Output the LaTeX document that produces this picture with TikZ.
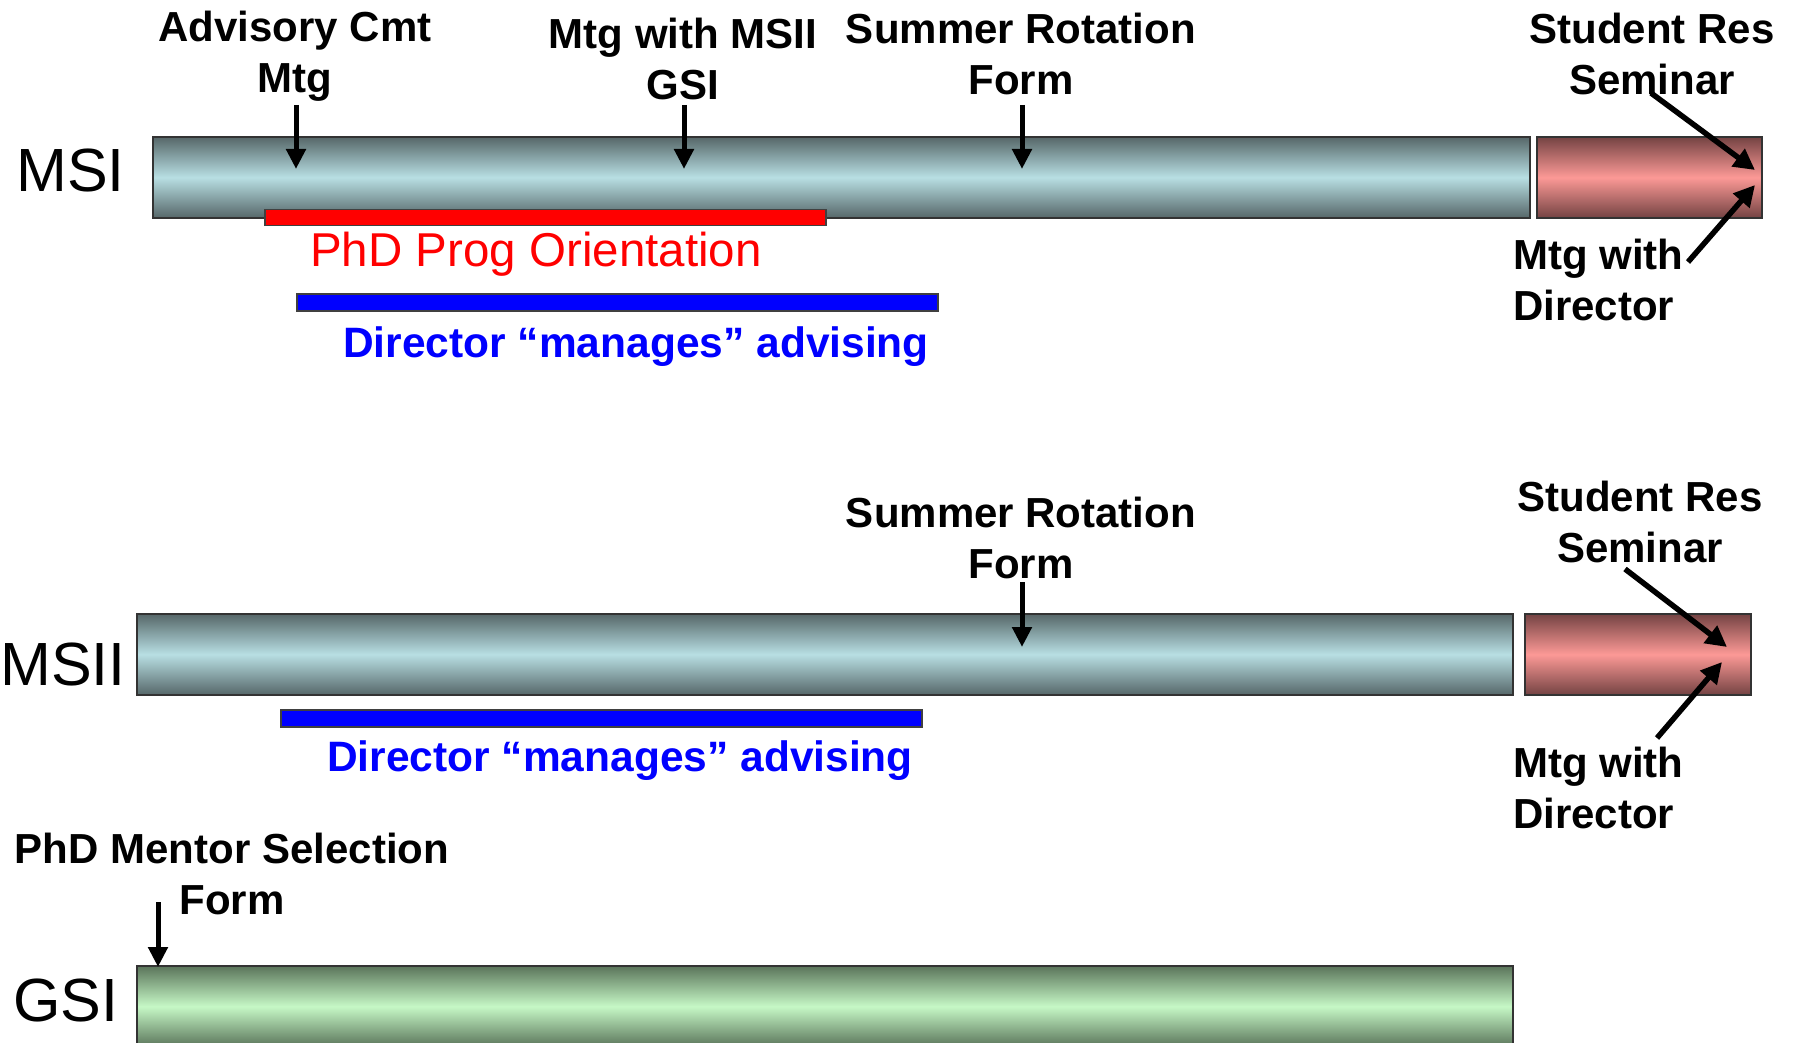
\documentclass[tikz,border=0pt]{standalone}
\usepackage{fontspec}
\setmainfont{Liberation Sans}
\usetikzlibrary{arrows.meta}
\definecolor{tealedge}{HTML}{566769}
\definecolor{tealmid}{HTML}{B8DFE3}
\definecolor{pinkedge}{HTML}{744343}
\definecolor{pinkmid}{HTML}{FC9996}
\definecolor{greenedge}{HTML}{5A745A}
\definecolor{greenmid}{HTML}{C6F8C6}
\begin{document}
\begin{tikzpicture}[x=1pt,y=-1pt,
  lbl/.style={font=\fontsize{42}{51}\selectfont\bfseries, align=center, inner sep=0pt, anchor=base},
  lbll/.style={font=\fontsize{42}{51}\selectfont\bfseries, align=left, inner sep=0pt, anchor=base west},
  bluetxt/.style={font=\fontsize{42.5}{51}\selectfont\bfseries, text=blue, inner sep=0pt, anchor=base west},
  rowname/.style={font=\fontsize{61}{70}\selectfont, inner sep=0pt, anchor=base west},
  arr/.style={line width=5pt, -{Triangle[width=19pt,length=20pt]}},
  darr/.style={line width=5.5pt, -{Triangle[width=21pt,length=21pt]}},
  barbase/.style={rectangle, draw=black!80, line width=1.8pt, anchor=north west, inner sep=0pt, minimum height=81pt},
  tealbar/.style={barbase, top color=tealedge, bottom color=tealedge, middle color=tealmid},
  pinkbar/.style={barbase, top color=pinkedge, bottom color=pinkedge, middle color=pinkmid},
  greenbar/.style={barbase, top color=greenedge, bottom color=greenedge, middle color=greenmid},
  strip/.style={rectangle, draw=black!75, line width=1.5pt, anchor=north west, inner sep=0pt, minimum height=16pt},
]
\useasboundingbox (0,0) rectangle (1799,1043);

% ---------- MSI row ----------
\node[rowname] (msiname) at (16,192) {MSI};
\node[tealbar, minimum width=1377pt] (msi) at (152,136) {};
\node[pinkbar, minimum width=225pt] (msipink) at (1536,136) {};
\node[strip, fill=red, minimum width=561pt] (orient) at (264,209) {};
\node[strip, fill=blue, minimum width=641pt, minimum height=17pt] (dir1) at (296,293) {};
\node[font=\fontsize{47.5}{56}\selectfont, text=red, inner sep=0pt, anchor=base west] (orienttxt) at (310,266) {PhD Prog Orientation};
\node[bluetxt] (dir1txt) at (343,357) {Director “manages” advising};

% multi-line labels: anchor at the baseline of the last line
\node[lbl] (advlbl) at (295,93) {Advisory Cmt\\Mtg};
\node[lbl] (mtglbl) at (683,100) {Mtg with MSII\\GSI};
\node[lbl] (sumlbl) at (1021,95) {Summer Rotation\\Form};
\node[lbl] (stulbl) at (1652,95) {Student Res\\Seminar};
\node[lbll] (dirlbl) at (1513,320) {Mtg with\\Director};

\coordinate (a1s) at (296,105); \coordinate (a1e) at (296,169);
\coordinate (a2s) at (684,105); \coordinate (a2e) at (684,169);
\coordinate (a3s) at (1022,105); \coordinate (a3e) at (1022,169);
\coordinate (a4s) at (1651,93); \coordinate (a4e) at (1755,170);
\coordinate (a5s) at (1688,262); \coordinate (a5e) at (1755,185);
\draw[arr] (a1s) -- (a1e);
\draw[arr] (a2s) -- (a2e);
\draw[arr] (a3s) -- (a3e);
\draw[darr] (a4s) -- (a4e);
\draw[darr] (a5s) -- (a5e);

% ---------- MSII row ----------
\node[rowname] (msiiname) at (0,685) {MSII};
\node[tealbar, minimum width=1376pt] (msii) at (136,613) {};
\node[pinkbar, minimum width=226pt] (msiipink) at (1524,613) {};
\node[strip, fill=blue, minimum width=641pt, minimum height=17pt] (dir2) at (280,709) {};
\node[bluetxt] (dir2txt) at (327,771) {Director “manages” advising};

\node[lbl] (sum2lbl) at (1021,578) {Summer Rotation\\Form};
\node[lbl] (stu2lbl) at (1640,562) {Student Res\\Seminar};
\node[lbll] (dir2lbl) at (1513,828) {Mtg with\\Director};

\coordinate (b1s) at (1022,582); \coordinate (b1e) at (1022,647);
\coordinate (b2s) at (1625,569); \coordinate (b2e) at (1727,647);
\coordinate (b3s) at (1657,738); \coordinate (b3e) at (1722,662);
\draw[arr] (b1s) -- (b1e);
\draw[darr] (b2s) -- (b2e);
\draw[darr] (b3s) -- (b3e);

% ---------- GSI row ----------
\node[rowname] (gsiname) at (13,1021) {GSI};
\node[greenbar, minimum width=1376pt] (gsi) at (136,965) {};
\node[lbl] (mentlbl) at (232,914) {PhD Mentor Selection\\Form};
\coordinate (c1s) at (158,902); \coordinate (c1e) at (158,967);
\draw[arr] (c1s) -- (c1e);
\end{tikzpicture}
\end{document}
